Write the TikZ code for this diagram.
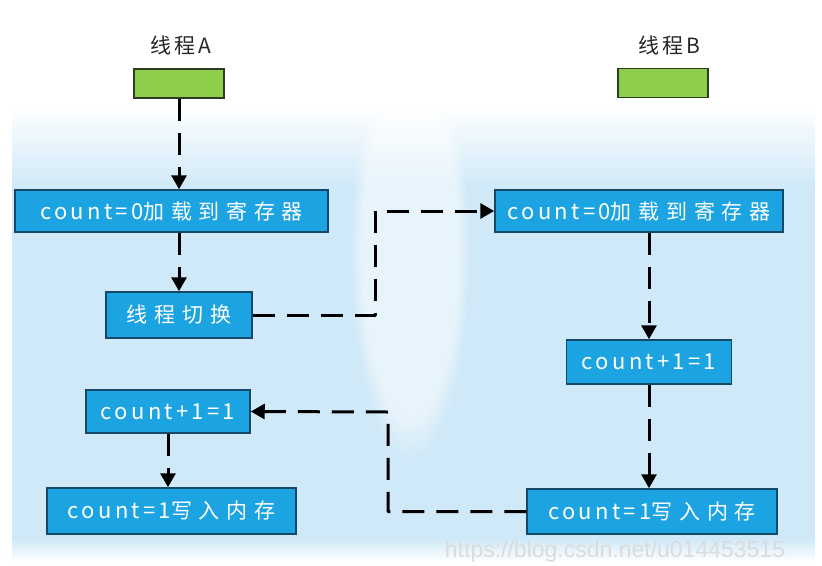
\documentclass[tikz,border=0pt]{standalone}
\usepackage{fontspec}
\newfontfamily\boxlatin[LetterSpace=15]{Noto Sans CJK SC}
\newfontfamily\boxcjk[LetterSpace=32]{Noto Sans CJK SC}
\newfontfamily\titlefont[LetterSpace=14]{Noto Sans CJK SC}
\newfontfamily\markfont{Liberation Sans}
\usetikzlibrary{arrows.meta,fadings}

\definecolor{boxblue}{RGB}{27,163,226}
\definecolor{boxedge}{RGB}{22,72,104}
\definecolor{thrgreen}{RGB}{141,206,74}
\definecolor{thredge}{RGB}{45,60,35}
\definecolor{bgblue}{RGB}{208,233,248}

% box label: Latin part, then Chinese part
\newcommand{\steplabel}[2]{{\boxlatin\fontsize{22}{24}\selectfont #1}{\boxcjk\fontsize{21}{24}\selectfont #2}}

\tikzset{
  stepbox/.style={draw=boxedge, line width=1.5pt, fill=boxblue, text=white, inner sep=0pt},
  thread/.style={draw=thredge, line width=1.5pt, fill=thrgreen, inner sep=0pt,
    minimum width=90pt, minimum height=29pt},
  threadname/.style={font=\titlefont\fontsize{21}{24}\selectfont, text=black!85},
  conn/.style={line width=3pt, dash pattern=on 22pt off 12pt, line join=round,
    -{Triangle[length=14pt,width=15pt]}},
}

\begin{document}
\begin{tikzpicture}[x=1pt,y=-1pt]
\useasboundingbox (0,0) rectangle (822,565);
\clip (0,0) rectangle (822,565);

% soft blue backdrop
\fill[bgblue] (12,185) rectangle (815,540);
\shade[top color=white, bottom color=bgblue] (12,105) rectangle (815,186);
\shade[top color=bgblue, bottom color=white] (12,539) rectangle (815,562);
\fill[white, fill opacity=0.5, path fading=circle with fuzzy edge 20 percent]
  (410,250) ellipse [x radius=60, y radius=210];

% thread headers
\node[threadname] (tA) at (181,45) {线程A};
\node[threadname] (tB) at (669,45) {线程B};
\node[thread] (gA) at (179,83.5) {};
\node[thread] (gB) at (663,83) {};

% thread A steps
\node[stepbox, minimum width=313pt, minimum height=42pt] (a1) at (171.5,211) {\steplabel{count=0}{加载到寄存器}};
\node[stepbox, minimum width=146pt, minimum height=46pt] (aSw) at (179,315) {\steplabel{}{线程切换}};
\node[stepbox, minimum width=164pt, minimum height=43pt] (aInc) at (168,411.5) {\steplabel{count+1=1}{}};
\node[stepbox, minimum width=249pt, minimum height=46pt] (aWr) at (171.5,511) {\steplabel{count=1}{写入内存}};

% thread B steps
\node[stepbox, minimum width=288pt, minimum height=42pt] (b1) at (639,211) {\steplabel{count=0}{加载到寄存器}};
\node[stepbox, minimum width=165pt, minimum height=44pt] (bInc) at (649,362) {\steplabel{count+1=1}{}};
\node[stepbox, minimum width=250pt, minimum height=45pt] (bWr) at (652,511.5) {\steplabel{count=1}{写入内存}};

% bend points of the cross-thread links
\coordinate (k1) at (375,211);
\coordinate (k2) at (388,412);

% watermark
\node[font=\markfont\fontsize{23}{23}\selectfont, text=black!14, anchor=base] (wm)
  at (615,557) {https://blog.csdn.net/u014453515};

% flow
\draw[conn] (gA.south) -- (gA.south |- a1.north);
\draw[conn] (a1.south -| aSw.north) -- (aSw.north);
\draw[conn] (aSw.east) -| (k1) -- (b1.west);
\draw[conn] (bInc.north |- b1.south) -- (bInc.north);
\draw[conn] (bInc.south) -- (bInc.south |- bWr.north);
\draw[conn] (bWr.west) -| (k2) -- (aInc.east);
\draw[conn] (aInc.south) -- (aInc.south |- aWr.north);
\end{tikzpicture}
\end{document}
